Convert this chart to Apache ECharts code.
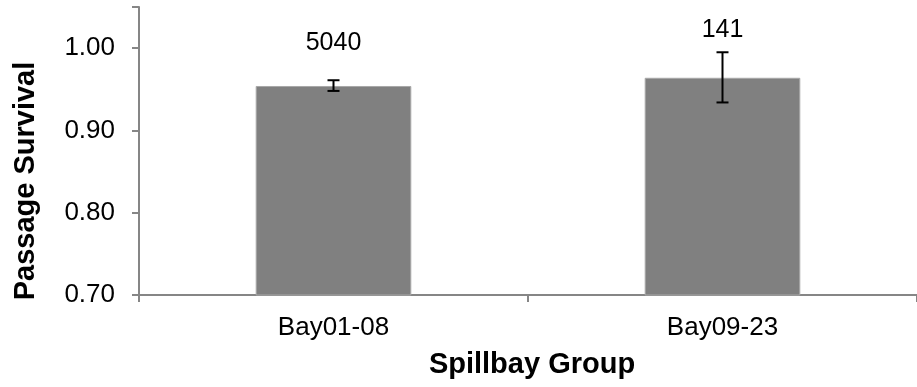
<!DOCTYPE html>
<html>
<head>
<meta charset="utf-8">
<script src="https://cdn.jsdelivr.net/npm/echarts@6/dist/echarts.min.js"></script>
<style>
  html, body { margin: 0; padding: 0; background: #fff; }
  #chart { width: 917px; height: 387px; }
</style>
</head>
<body>
<div id="chart"></div>
<script>
// Spillbay passage survival with error bars and sample sizes
const categories = ['Bay01-08', 'Bay09-23'];
const survival = [0.954, 0.964];
const errLow = [0.948, 0.934];
const errHigh = [0.961, 0.995];
const sampleSizes = ['5040', '141'];
const sampleLabelY = [1.006, 1.022];
const yTicks = [0.70, 0.80, 0.90, 1.00];

const FONT = '"Liberation Sans", Arial, sans-serif';
const AXIS_COLOR = '#868686';

const chart = echarts.init(document.getElementById('chart'), null, { renderer: 'canvas' });

chart.setOption({
  backgroundColor: '#ffffff',
  animation: false,
  grid: { left: 139, top: 7, bottom: 92, width: 786 },
  xAxis: {
    type: 'category',
    data: categories,
    boundaryGap: true,
    axisLine: { lineStyle: { color: AXIS_COLOR, width: 2 } },
    axisTick: { show: true, length: 7, lineStyle: { color: AXIS_COLOR, width: 2 } },
    axisLabel: { color: '#000', fontFamily: FONT, fontSize: 26, margin: 20 }
  },
  yAxis: {
    type: 'value',
    min: 0.70,
    max: 1.05,
    interval: 0.10,
    axisLine: { show: true, lineStyle: { color: AXIS_COLOR, width: 2 } },
    axisTick: { show: true, length: 7, lineStyle: { color: AXIS_COLOR, width: 2 } },
    splitLine: { show: false },
    axisLabel: {
      color: '#000', fontFamily: FONT, fontSize: 26, margin: 24,
      formatter: function (v) {
        return yTicks.some(t => Math.abs(t - v) < 1e-9) ? v.toFixed(2) : '';
      }
    }
  },
  graphic: [
    {
      type: 'text',
      x: 532, y: 365,
      style: { text: 'Spillbay Group', font: 'bold 29px ' + FONT, fill: '#000', textAlign: 'center', textVerticalAlign: 'middle' }
    },
    {
      type: 'text',
      rotation: Math.PI / 2,
      x: 26, y: 181,
      style: { text: 'Passage Survival', font: 'bold 29px ' + FONT, fill: '#000', textAlign: 'center', textVerticalAlign: 'middle' }
    }
  ],
  series: [
    {
      type: 'bar',
      data: survival,
      barWidth: '40%',
      itemStyle: { color: '#808080', borderColor: '#a8a8a8', borderWidth: 1 },
      z: 2
    },
    {
      type: 'custom',
      data: categories.map((c, i) => [i, errLow[i], errHigh[i]]),
      renderItem: function (params, api) {
        const x = api.coord([api.value(0), 0])[0];
        const yLo = api.coord([api.value(0), api.value(1)])[1];
        const yHi = api.coord([api.value(0), api.value(2)])[1];
        const half = 6;
        const style = { stroke: '#000', lineWidth: 2 };
        return {
          type: 'group',
          children: [
            { type: 'line', shape: { x1: x, y1: yLo, x2: x, y2: yHi }, style: style },
            { type: 'line', shape: { x1: x - half, y1: yHi, x2: x + half, y2: yHi }, style: style },
            { type: 'line', shape: { x1: x - half, y1: yLo, x2: x + half, y2: yLo }, style: style }
          ]
        };
      },
      z: 3
    },
    {
      type: 'custom',
      data: categories.map((c, i) => [i, sampleLabelY[i], sampleSizes[i]]),
      renderItem: function (params, api) {
        const p = api.coord([api.value(0), api.value(1)]);
        return {
          type: 'text',
          x: p[0], y: p[1],
          style: {
            text: sampleSizes[params.dataIndex],
            font: '25px ' + FONT,
            fill: '#000',
            textAlign: 'center',
            textVerticalAlign: 'middle'
          }
        };
      },
      z: 4
    }
  ]
});
</script>
</body>
</html>
